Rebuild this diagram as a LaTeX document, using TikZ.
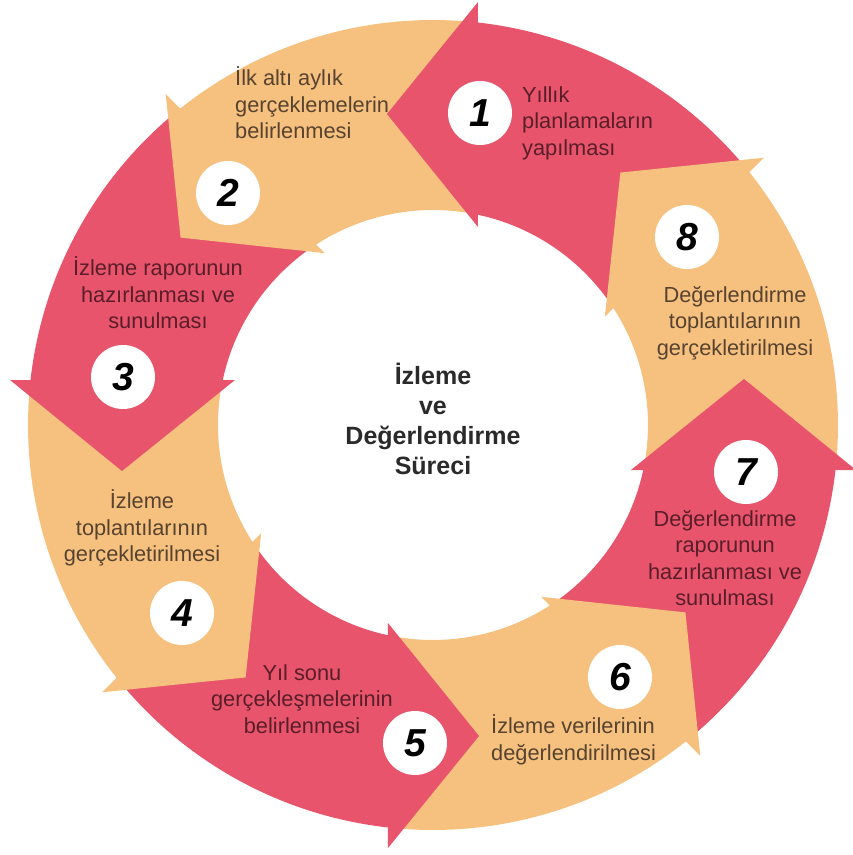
\documentclass[tikz,border=0pt]{standalone}
\usepackage{fontspec}
\setmainfont{Liberation Sans}
\definecolor{arred}{HTML}{E8546B}
\definecolor{arpeach}{HTML}{F6C17F}
\definecolor{txtred}{HTML}{5A1E2A}
\definecolor{txtpeach}{HTML}{574330}
\definecolor{txtcenter}{HTML}{2A2A2A}
\tikzset{
  numcirc/.style={circle, fill=white, minimum size=64pt, inner sep=0pt,
    font=\fontsize{39}{39}\selectfont\bfseries\itshape, text=black},
  lbl/.style={inner sep=0pt, font=\fontsize{21.8}{26.5}\selectfont},
  onred/.style={lbl, text=txtred},
  onpeach/.style={lbl, text=txtpeach},
  centertxt/.style={inner sep=0pt, align=center, text=txtcenter,
    font=\fontsize{25}{30}\selectfont\bfseries}
}
\begin{document}
\begin{tikzpicture}[x=1pt,y=1pt]
\useasboundingbox (-433,-430) rectangle (420,425);
% bodies
\foreach \r/\c in {90/arred,135/arpeach,180/arred,225/arpeach,270/arred,315/arpeach,0/arred,45/arpeach}{
  \begin{scope}[rotate=\r]
    \fill[\c] (-57.08:215) arc[start angle=-57.08, end angle=-12.08, radius=215]
      -- (-6.38:405) arc[start angle=-6.38, end angle=-51.38, radius=405] -- cycle;
  \end{scope}
}
% heads (with a thin backward strip inside the ring to hide seams)
\foreach \r/\c in {90/arred,135/arpeach,180/arred,225/arpeach,270/arred,315/arpeach,0/arred,45/arpeach}{
  \begin{scope}[rotate=\r]
    \fill[\c] (198,-45) -- (212,-45) -- (212,-48) -- (400,-48) -- (400,-45)
      -- (423,-45) -- (311,46) -- cycle;
  \end{scope}
}
% number circles
\node[numcirc] (n1) at (47,312) {1};
\node[numcirc] (n2) at (-205,232) {2};
\node[numcirc] (n3) at (-310,48) {3};
\node[numcirc] (n4) at (-251,-188) {4};
\node[numcirc] (n5) at (-18,-318) {5};
\node[numcirc] (n6) at (187,-252) {6};
\node[numcirc] (n7) at (313,-47) {7};
\node[numcirc] (n8) at (254,188) {8};
% labels
\node[onred, align=left, anchor=west] (t1) at (89,302) {Yıllık\\planlamaların\\yapılması};
\node[onpeach, align=left, anchor=west] (t2) at (-198,322) {İlk altı aylık\\gerçeklemelerin\\belirlenmesi};
\node[onred, align=center] (t3) at (-275,132) {İzleme raporunun\\hazırlanması ve\\sunulması};
\node[onpeach, align=center] (t4) at (-291,-103) {İzleme\\toplantılarının\\gerçekletirilmesi};
\node[onred, align=center] (t5) at (-131,-274) {Yıl sonu\\gerçekleşmelerinin\\belirlenmesi};
\node[onpeach, align=left, anchor=west] (t6) at (58,-315) {İzleme verilerinin\\değerlendirilmesi};
\node[onred, align=center] (t7) at (292,-133) {Değerlendirme\\raporunun\\hazırlanması ve\\sunulması};
\node[onpeach, align=center] (t8) at (302,102) {Değerlendirme\\toplantılarının\\gerçekletirilmesi};
\node[centertxt] (c) at (0,6) {İzleme\\ve\\Değerlendirme\\Süreci};
\end{tikzpicture}
\end{document}
